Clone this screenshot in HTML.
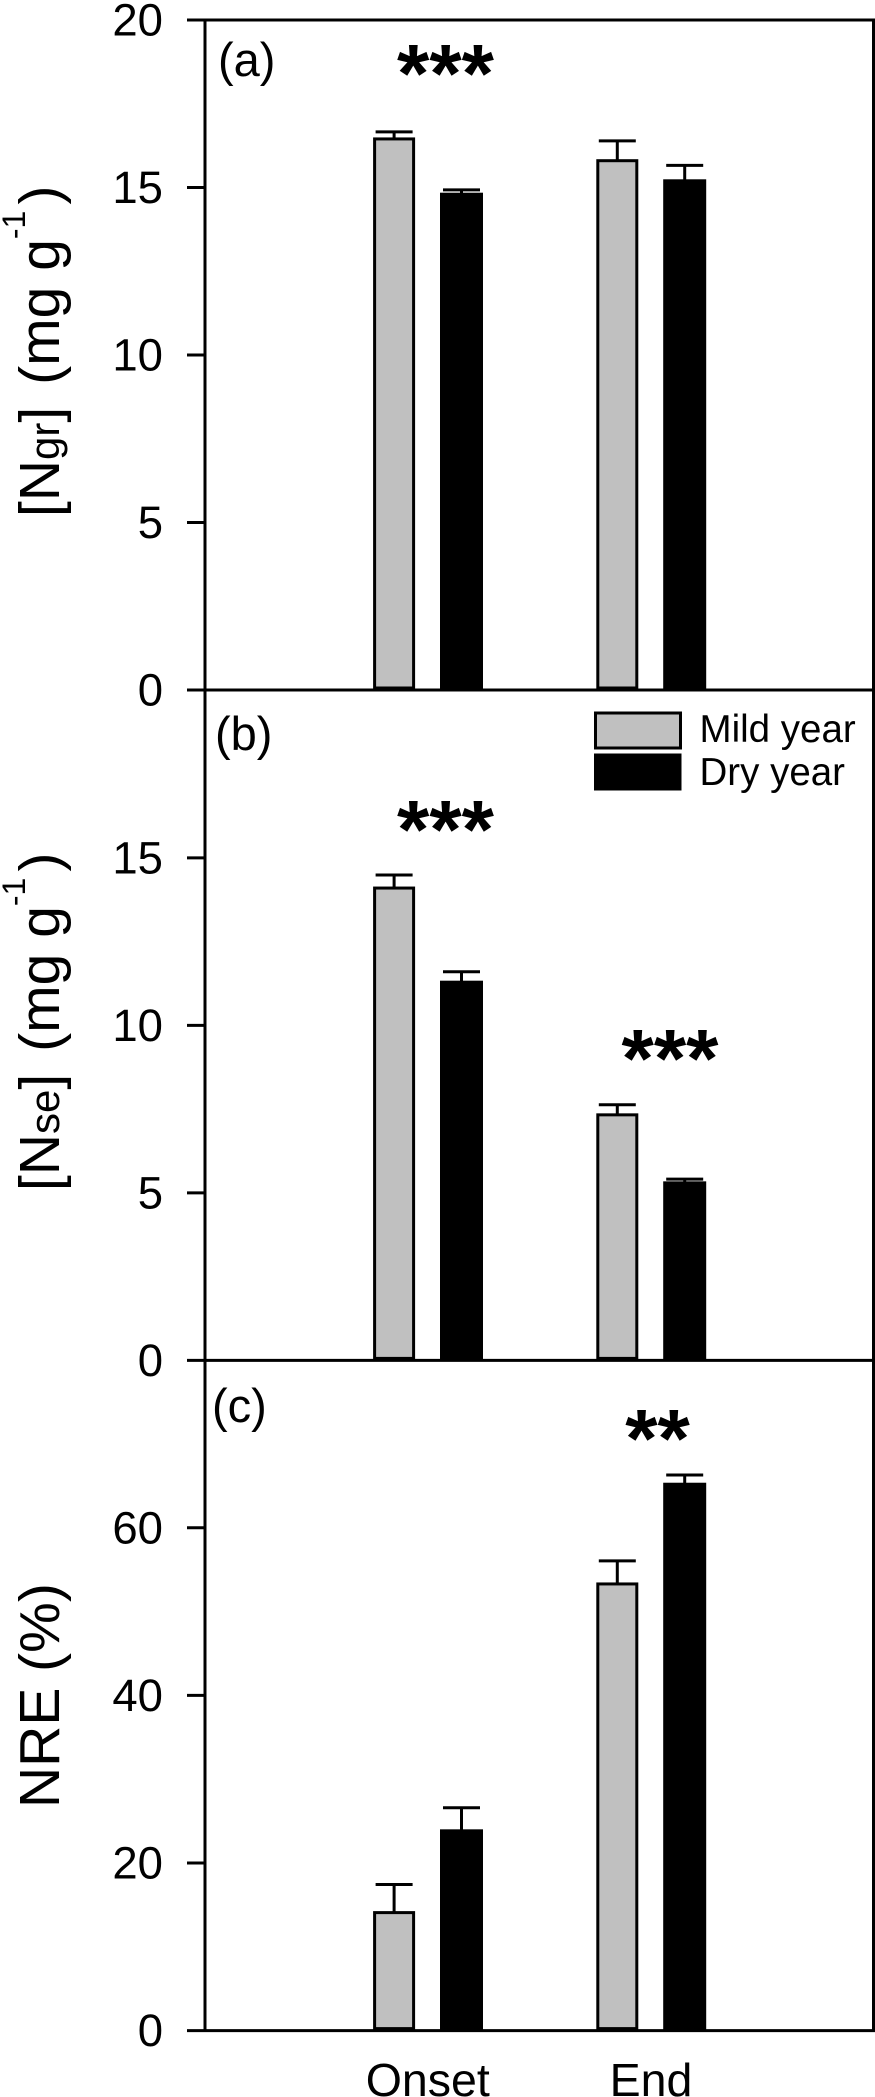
<!DOCTYPE html>
<html lang="en">
<head>
<meta charset="utf-8">
<title>Nitrogen concentration and resorption efficiency</title>
<style>
html,body{margin:0;padding:0;background:#fff;}
svg{display:block;}
text{font-family:"Liberation Sans",Arial,sans-serif;fill:#000;}
</style>
</head>
<body>
<svg id="chart" xmlns="http://www.w3.org/2000/svg" width="875" height="2097" viewBox="0 0 875 2097">
  <rect x="0" y="0" width="875" height="2097" fill="#fff"/>
  <g id="marks"></g>

  <text transform="translate(59,517) rotate(-90)" font-size="57"><tspan>[N</tspan><tspan font-size="42">gr</tspan><tspan>]</tspan><tspan dx="22">(mg g</tspan><tspan font-size="32" dy="-34">-1</tspan><tspan dy="34" dx="6">)</tspan></text>
  <text transform="translate(59,1191) rotate(-90)" font-size="57"><tspan>[N</tspan><tspan font-size="42">se</tspan><tspan>]</tspan><tspan dx="22">(mg g</tspan><tspan font-size="32" dy="-34">-1</tspan><tspan dy="34" dx="6">)</tspan></text>
  <text transform="translate(59,1808) rotate(-90)" font-size="57">NRE (%)</text>

  <text x="218" y="76" font-size="47">(a)</text>
  <text x="215" y="750" font-size="47">(b)</text>
  <text x="212" y="1422" font-size="47">(c)</text>

  <text x="445.5" y="102" font-size="83" font-weight="bold" text-anchor="middle">***</text>
  <text x="445.5" y="858" font-size="83" font-weight="bold" text-anchor="middle">***</text>
  <text x="670" y="1087" font-size="83" font-weight="bold" text-anchor="middle">***</text>
  <text x="657.5" y="1467" font-size="83" font-weight="bold" text-anchor="middle">**</text>

  <g>
    <rect x="595.5" y="713" width="85" height="35" fill="#c0c0c0" stroke="#000" stroke-width="3"/>
    <rect x="594" y="753.5" width="87.5" height="37" fill="#000"/>
    <text x="699.5" y="742" font-size="38.5">Mild year</text>
    <text x="699.5" y="785" font-size="38.5">Dry year</text>
  </g>
</svg>
<script>
const categories = ['Onset', 'End'];

const ngrTicks = [0, 5, 10, 15, 20];
const nseTicks = [0, 5, 10, 15];
const nreTicks = [0, 20, 40, 60];

const ngrMild = [16.45, 15.8];
const ngrMildErr = [0.21, 0.59];
const ngrDry = [14.8, 15.2];
const ngrDryErr = [0.13, 0.46];

const nseMild = [14.1, 7.33];
const nseMildErr = [0.39, 0.3];
const nseDry = [11.29, 5.3];
const nseDryErr = [0.31, 0.11];

const nreMild = [14.08, 53.3];
const nreMildErr = [3.35, 2.75];
const nreDry = [23.84, 65.2];
const nreDryErr = [2.76, 1.1];

const SVG_NS = 'http://www.w3.org/2000/svg';
const root = document.getElementById('marks');

const AXIS_LEFT = 205;
const AXIS_RIGHT = 873.5;
const TICK_LEFT = 187;

function xCategory(i) {
  return 427.8 + i * 223.2;
}

function makeY(bottom, pxPerUnit) {
  return function (v) {
    return bottom - v * pxPerUnit;
  };
}

function addLine(parent, x1, y1, x2, y2, w) {
  const el = document.createElementNS(SVG_NS, 'line');
  el.setAttribute('x1', x1);
  el.setAttribute('y1', y1);
  el.setAttribute('x2', x2);
  el.setAttribute('y2', y2);
  el.setAttribute('stroke', '#000');
  el.setAttribute('stroke-width', w);
  parent.appendChild(el);
  return el;
}

function drawBar(parent, cx, v, err, y, isMild, base) {
  const group = document.createElementNS(SVG_NS, 'g');
  
  
  parent.appendChild(group);

  const topY = y(v);
  const errY = y(v + err);
  const stem = addLine(group, cx, topY, cx, errY, 3);
  
  
  const cap = addLine(group, cx - 18.5, errY, cx + 18.5, errY, 3);
  
  

  const bar = document.createElementNS(SVG_NS, 'rect');
  
  
  if (isMild) {
    bar.setAttribute('x', cx - 19.5);
    bar.setAttribute('width', 39);
    bar.setAttribute('y', topY);
    bar.setAttribute('height', y(0) - topY - 2);
    bar.setAttribute('fill', '#c0c0c0');
    bar.setAttribute('stroke', '#000');
    bar.setAttribute('stroke-width', 3);
  } else {
    bar.setAttribute('x', cx - 21.5);
    bar.setAttribute('width', 43);
    bar.setAttribute('y', topY - 1.5);
    bar.setAttribute('height', y(0) - topY + 1.5);
    bar.setAttribute('fill', '#000');
  }
  group.appendChild(bar);
}

function drawPanel(name, y, ticks, mild, mildErr, dry, dryErr, top) {
  const panel = document.createElementNS(SVG_NS, 'g');
  
  
  root.appendChild(panel);

  categories.forEach(function (cat, i) {
    const c = xCategory(i);
    drawBar(panel, c - 33.7, mild[i], mildErr[i], y, true, name + '-mild-' + cat.toLowerCase());
    drawBar(panel, c + 33.7, dry[i], dryErr[i], y, false, name + '-dry-' + cat.toLowerCase());
  });

  const left = addLine(panel, AXIS_LEFT, top, AXIS_LEFT, y(0), 3);
  
  
  const right = addLine(panel, AXIS_RIGHT, top, AXIS_RIGHT, y(0), 3);
  
  
  const base = addLine(panel, AXIS_LEFT, y(0), 875, y(0), 3);
  
  

  ticks.forEach(function (t) {
    const tick = addLine(panel, TICK_LEFT, y(t), AXIS_LEFT, y(t), 3);
    
    
    const label = document.createElementNS(SVG_NS, 'text');
    
    
    label.setAttribute('x', 163);
    label.setAttribute('y', y(t) + 15.5);
    label.setAttribute('font-size', 45.5);
    label.setAttribute('text-anchor', 'end');
    label.textContent = String(t);
    panel.appendChild(label);
  });
}

const yNgr = makeY(690, 33.5);
const yNse = makeY(1360.4, 33.5);
const yNre = makeY(2030.6, 8.38);

drawPanel('ngr', yNgr, ngrTicks, ngrMild, ngrMildErr, ngrDry, ngrDryErr, 20);
drawPanel('nse', yNse, nseTicks, nseMild, nseMildErr, nseDry, nseDryErr, 690);
drawPanel('nre', yNre, nreTicks, nreMild, nreMildErr, nreDry, nreDryErr, 1360.4);

const topRule = addLine(root, TICK_LEFT, 20, 875, 20, 3);



categories.forEach(function (cat, i) {
  const label = document.createElementNS(SVG_NS, 'text');
  
  
  label.setAttribute('x', xCategory(i));
  label.setAttribute('y', 2096);
  label.setAttribute('font-size', 46.5);
  label.setAttribute('text-anchor', 'middle');
  label.textContent = cat;
  root.appendChild(label);
});
</script>
</body>
</html>
